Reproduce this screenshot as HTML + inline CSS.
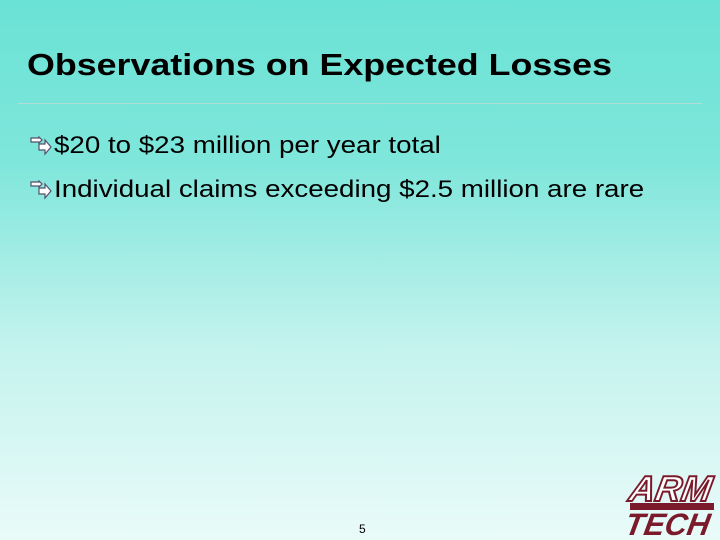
<!DOCTYPE html>
<html><head><meta charset="utf-8"><style>
body{margin:0}
#s{position:relative;width:720px;height:540px;overflow:hidden;background:linear-gradient(to bottom,#6ae2d5 0%,#7fe6db 30%,#c5f3ee 65%,#e9fbf9 100%);font-family:"Liberation Sans",sans-serif}
.t{position:absolute;left:27px;top:47px;font-size:31px;font-weight:bold;color:#000;white-space:nowrap;transform:scaleX(1.155);transform-origin:0 0}
.rule{position:absolute;left:18px;top:103px;width:684px;height:1px;background:#b0dcd6}
.b{position:absolute;left:30px;font-size:24px;color:#000;white-space:nowrap}
.b svg{position:absolute;left:0;top:4px}
.b span{position:absolute;left:24px;top:0;display:block;transform:scaleX(1.155);transform-origin:0 0}
.pg{position:absolute;left:359px;top:522px;font-size:12px}
</style></head><body>
<div id="s">
<div class="t">Observations on Expected Losses</div>
<div class="rule"></div>
<div class="b" style="top:132px"><svg width="22" height="20" viewBox="0 0 22 20"><path d="M1 2h8v-1l3 3-3 3v-1H1z M9 8h6V4l6 7-6 7v-4H9z" fill="#fff" stroke="#55506a" stroke-width="1.2"/></svg><span>$20 to $23 million per year total</span></div>
<div class="b" style="top:176px"><svg width="22" height="20" viewBox="0 0 22 20"><path d="M1 2h8v-1l3 3-3 3v-1H1z M9 8h6V4l6 7-6 7v-4H9z" fill="#fff" stroke="#55506a" stroke-width="1.2"/></svg><span>Individual claims exceeding $2.5 million are rare</span></div>
<div class="pg">5</div>
<svg style="position:absolute;left:620px;top:465px" width="100" height="75">
<text x="14" y="36" font-family="Liberation Sans" font-weight="bold" font-style="italic" font-size="36" fill="#fff" stroke="#7a1a2a" stroke-width="2" transform="skewX(-10)">ARM</text>
<rect x="10" y="38" width="84" height="7" fill="#7a1a2a"/>
<text x="16" y="70" font-family="Liberation Sans" font-weight="bold" font-style="italic" font-size="31" fill="#7a1a2a" transform="skewX(-10)">TECH</text>
</svg>
</div>
</body></html>
